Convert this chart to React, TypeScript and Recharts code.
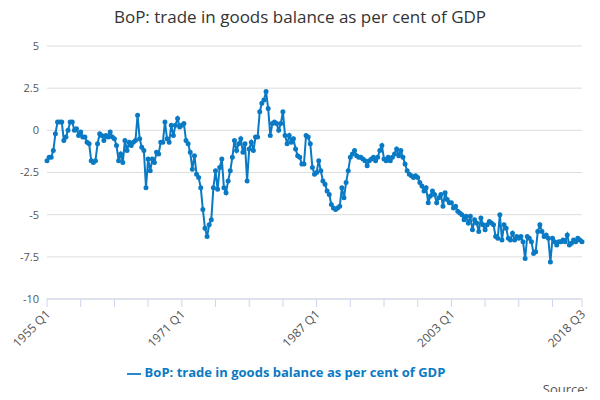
import { LineChart, Line, XAxis, YAxis, CartesianGrid, Legend } from 'recharts';

const startYear = 1955;
const values: number[] = [
  -1.8, -1.6, -1.6, -1.2, -0.2, 0.5, 0.5, 0.5, -0.6, -0.4, 0.0, 0.5, 0.5, 0.0, 0.1, -0.3,
  -0.1, -0.4, -0.4, -0.7, -0.8, -1.8, -1.9, -1.8, -0.8, -0.2, -0.3, -0.6, -0.3, -0.4, -0.1, -0.4,
  -0.5, -0.9, -1.8, -1.4, -1.9, -0.6, -1.2, -0.7, -0.9, -0.7, -0.6, 0.9, -0.5, -1.0, -1.2, -3.4,
  -1.7, -2.4, -1.7, -1.9, -1.3, -1.4, -0.7, -0.7, 0.5, -0.5, -0.7, 0.3, -0.3, 0.3, 0.7, 0.2,
  0.3, 0.4, -0.6, -0.8, -1.3, -2.3, -1.5, -2.6, -2.8, -3.4, -4.7, -5.8, -6.3, -5.6, -5.3, -3.4,
  -2.4, -3.5, -2.2, -1.7, -3.4, -3.7, -3.0, -2.4, -1.6, -0.6, -1.2, -0.8, -0.5, -1.3, -0.8, -3.0,
  -1.1, -0.7, -1.2, -0.4, -0.4, 1.1, 1.6, 1.8, 2.3, 1.3, -0.3, 0.4, 0.5, 0.4, 0.0, 0.4,
  1.1, -0.3, -0.8, -0.3, -0.7, -0.5, -1.1, -1.5, -1.6, -2.0, -2.0, -0.3, -0.4, -0.8, -2.2, -2.6,
  -2.5, -1.8, -2.4, -3.0, -3.2, -3.6, -3.8, -4.4, -4.6, -4.7, -4.6, -4.5, -3.4, -4.0, -3.1, -2.4,
  -1.6, -1.4, -1.2, -1.5, -1.6, -1.6, -1.7, -1.8, -2.1, -1.8, -1.7, -1.6, -1.8, -1.6, -1.2, -0.9,
  -1.7, -1.8, -1.6, -1.8, -1.6, -1.4, -1.1, -1.5, -1.2, -1.6, -2.0, -2.4, -2.6, -2.7, -2.8, -2.7,
  -2.8, -3.1, -3.3, -3.6, -3.4, -4.3, -3.9, -3.6, -3.8, -4.3, -4.0, -3.8, -4.5, -3.7, -4.1, -4.3,
  -4.3, -4.6, -4.5, -4.8, -4.9, -5.0, -5.3, -5.1, -5.5, -5.1, -5.9, -5.3, -5.5, -6.0, -5.2, -5.6,
  -5.9, -5.6, -5.4, -5.5, -5.6, -6.3, -6.4, -5.0, -6.5, -5.6, -5.8, -6.4, -6.5, -6.1, -6.5, -6.3,
  -6.4, -6.3, -6.6, -7.6, -6.3, -6.4, -6.6, -7.3, -7.2, -6.0, -5.6, -6.0, -6.3, -6.2, -6.4, -7.8,
  -6.4, -6.6, -6.8, -6.6, -6.6, -6.5, -6.6, -6.2, -6.8, -6.7, -6.5, -6.6, -6.4, -6.5, -6.6,
];
const labelTicks = ['1955 Q1', '1971 Q1', '1987 Q1', '2003 Q1', '2018 Q3'];
const yTicks = [5, 2.5, 0, -2.5, -5, -7.5, -10];

const data = values.map((v, i) => ({
  quarter: `${startYear + Math.floor(i / 4)} Q${(i % 4) + 1}`,
  value: v,
}));
const tickCats = data.filter((_, i) => i % 16 === 0).map((d) => d.quarter);
tickCats.push(data[data.length - 1].quarter);

const SERIES = 'BoP: trade in goods balance as per cent of GDP';

function XTick({ x, y, payload }: any) {
  if (!labelTicks.includes(payload.value)) return null;
  return (
    <text x={x + 4} y={y + 6} textAnchor="end" fontSize={12} fill="#555" transform={`rotate(-45 ${x + 4} ${y + 6})`}>
      {payload.value}
    </text>
  );
}

export default function App() {
  return (
    <div style={{ position: 'relative', width: 600, height: 400, margin: -8, background: '#fff', fontFamily: '"Open Sans", sans-serif' }}>
      <div style={{ position: 'absolute', top: 5, width: 600, textAlign: 'center', fontSize: 17, color: '#333' }}>
        {SERIES}
      </div>
      <LineChart width={600} height={400} data={data} margin={{ top: 46, right: 18, left: 0, bottom: 0 }}>
        <CartesianGrid vertical={false} stroke="#ddd" />
        <XAxis dataKey="quarter" ticks={tickCats} tick={<XTick />} interval={0} height={83} stroke="#ccd6eb" tickLine={{ stroke: '#ccd6eb' }} tickSize={8} />
        <YAxis domain={[-10, 5]} ticks={yTicks} width={47} axisLine={false} tickLine={false} tick={{ fontSize: 11, fill: '#555' }} />
        <Legend verticalAlign="bottom" align="center" wrapperStyle={{ bottom: 19, fontSize: 13, fontWeight: 'bold', color: '#333' }} iconType="plainline" />
        <Line type="linear" dataKey="value" name={SERIES} stroke="#0a7ac4" strokeWidth={2} dot={{ r: 1.5, fill: '#0a7ac4', stroke: '#0a7ac4' }} isAnimationActive={false} />
      </LineChart>
      <div style={{ position: 'absolute', right: 12, top: 380, fontSize: 13, color: '#555' }}>Source:</div>
    </div>
  );
}
